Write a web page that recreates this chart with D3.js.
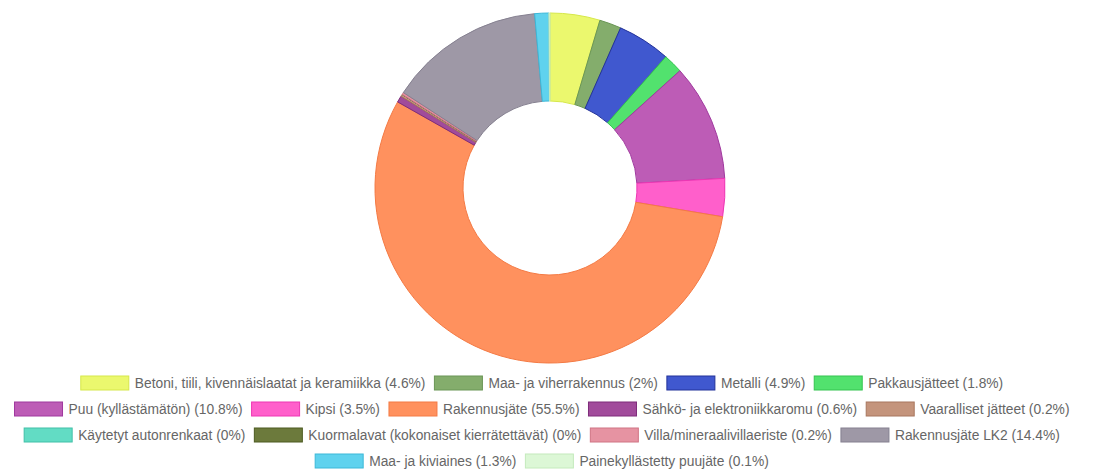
<!DOCTYPE html>
<html>
<head>
<meta charset="utf-8">
<script src="https://cdn.jsdelivr.net/npm/d3@7"></script>
<style>
  body { margin: 0; background: #fff; }
</style>
</head>
<body>
<div id="container"></div>
<script>
let w = 1098;
let h = 471;

// waste categories, in slice order (clockwise from top)
let categories = [
  "Betoni, tiili, kivennäislaatat ja keramiikka",
  "Maa- ja viherrakennus",
  "Metalli",
  "Pakkausjätteet",
  "Puu (kyllästämätön)",
  "Kipsi",
  "Rakennusjäte",
  "Sähkö- ja elektroniikkaromu",
  "Vaaralliset jätteet",
  "Käytetyt autonrenkaat",
  "Kuormalavat (kokonaiset kierrätettävät)",
  "Villa/mineraalivillaeriste",
  "Rakennusjäte LK2",
  "Maa- ja kiviaines",
  "Painekyllästetty puujäte"
];
let percents = [4.6, 2, 4.9, 1.8, 10.8, 3.5, 55.5, 0.6, 0.2, 0, 0, 0.2, 14.4, 1.3, 0.1];
let fills = [
  "#ebf86e", "#84ad6c", "#4058cf", "#52e26e", "#bd5cb6", "#ff5fcb", "#ff915e",
  "#a14b9b", "#c4947c", "#62dcc4", "#6c7a3c", "#e693a2", "#9e98a6", "#5fd2ee", "#dcf7d6"
];
let strokes = [
  "#d6e84a", "#6a9656", "#23329a", "#35c450", "#a0389e", "#ee36b4", "#f47a44",
  "#7e2c7a", "#a8765e", "#40c0a8", "#4c5a20", "#d07484", "#858090", "#3cb8d8", "#c4eabc"
];
// how many legend items sit on each row
let legendRows = [4, 5, 4, 2];

let viz = d3.select("#container")
  .append("svg")
    .attr("width", w)
    .attr("height", h)
    .style("font-family", "'Liberation Sans', Arial, sans-serif")
;

// donut
let cx = 550, cy = 188, outerR = 175, innerR = 87;

let pie = d3.pie().sort(null).value(function(d){ return d; });
let arc = d3.arc().innerRadius(innerR).outerRadius(outerR);

let donut = viz.append("g").attr("transform", "translate(" + cx + "," + cy + ")");
donut.selectAll("path")
  .data(pie(percents))
  .enter()
  .append("path")
    .attr("d", arc)
    .attr("fill", function(d, i){ return fills[i]; })
    .attr("stroke", function(d, i){ return strokes[i]; })
    .attr("stroke-width", 1)
;

// legend, rows centred under the chart
let boxW = 48, boxH = 14, textGap = 6, itemGap = 9, fontSize = 13.8;
let rowY = [383, 409, 435, 461];
let legendCenter = 542;

let legend = viz.append("g").attr("class", "legend");
let start = 0;
legendRows.forEach(function(count, r){
  let idx = d3.range(start, start + count);
  start += count;
  let row = legend.append("g");
  let x = 0;
  idx.forEach(function(i, k){
    let item = row.append("g").attr("transform", "translate(" + x + ",0)");
    item.append("rect")
      .attr("x", 0)
      .attr("y", -boxH / 2)
      .attr("width", boxW)
      .attr("height", boxH)
      .attr("fill", fills[i])
      .attr("stroke", strokes[i])
      .attr("stroke-width", 1);
    let t = item.append("text")
      .attr("x", boxW + textGap)
      .attr("y", 5)
      .attr("fill", "#666")
      .attr("font-size", fontSize)
      .text(categories[i] + " (" + percents[i] + "%)");
    x += boxW + textGap + t.node().getComputedTextLength();
    if (k < count - 1) x += itemGap;
  });
  row.attr("transform", "translate(" + (legendCenter - x / 2) + "," + rowY[r] + ")");
});
</script>
</body>
</html>
